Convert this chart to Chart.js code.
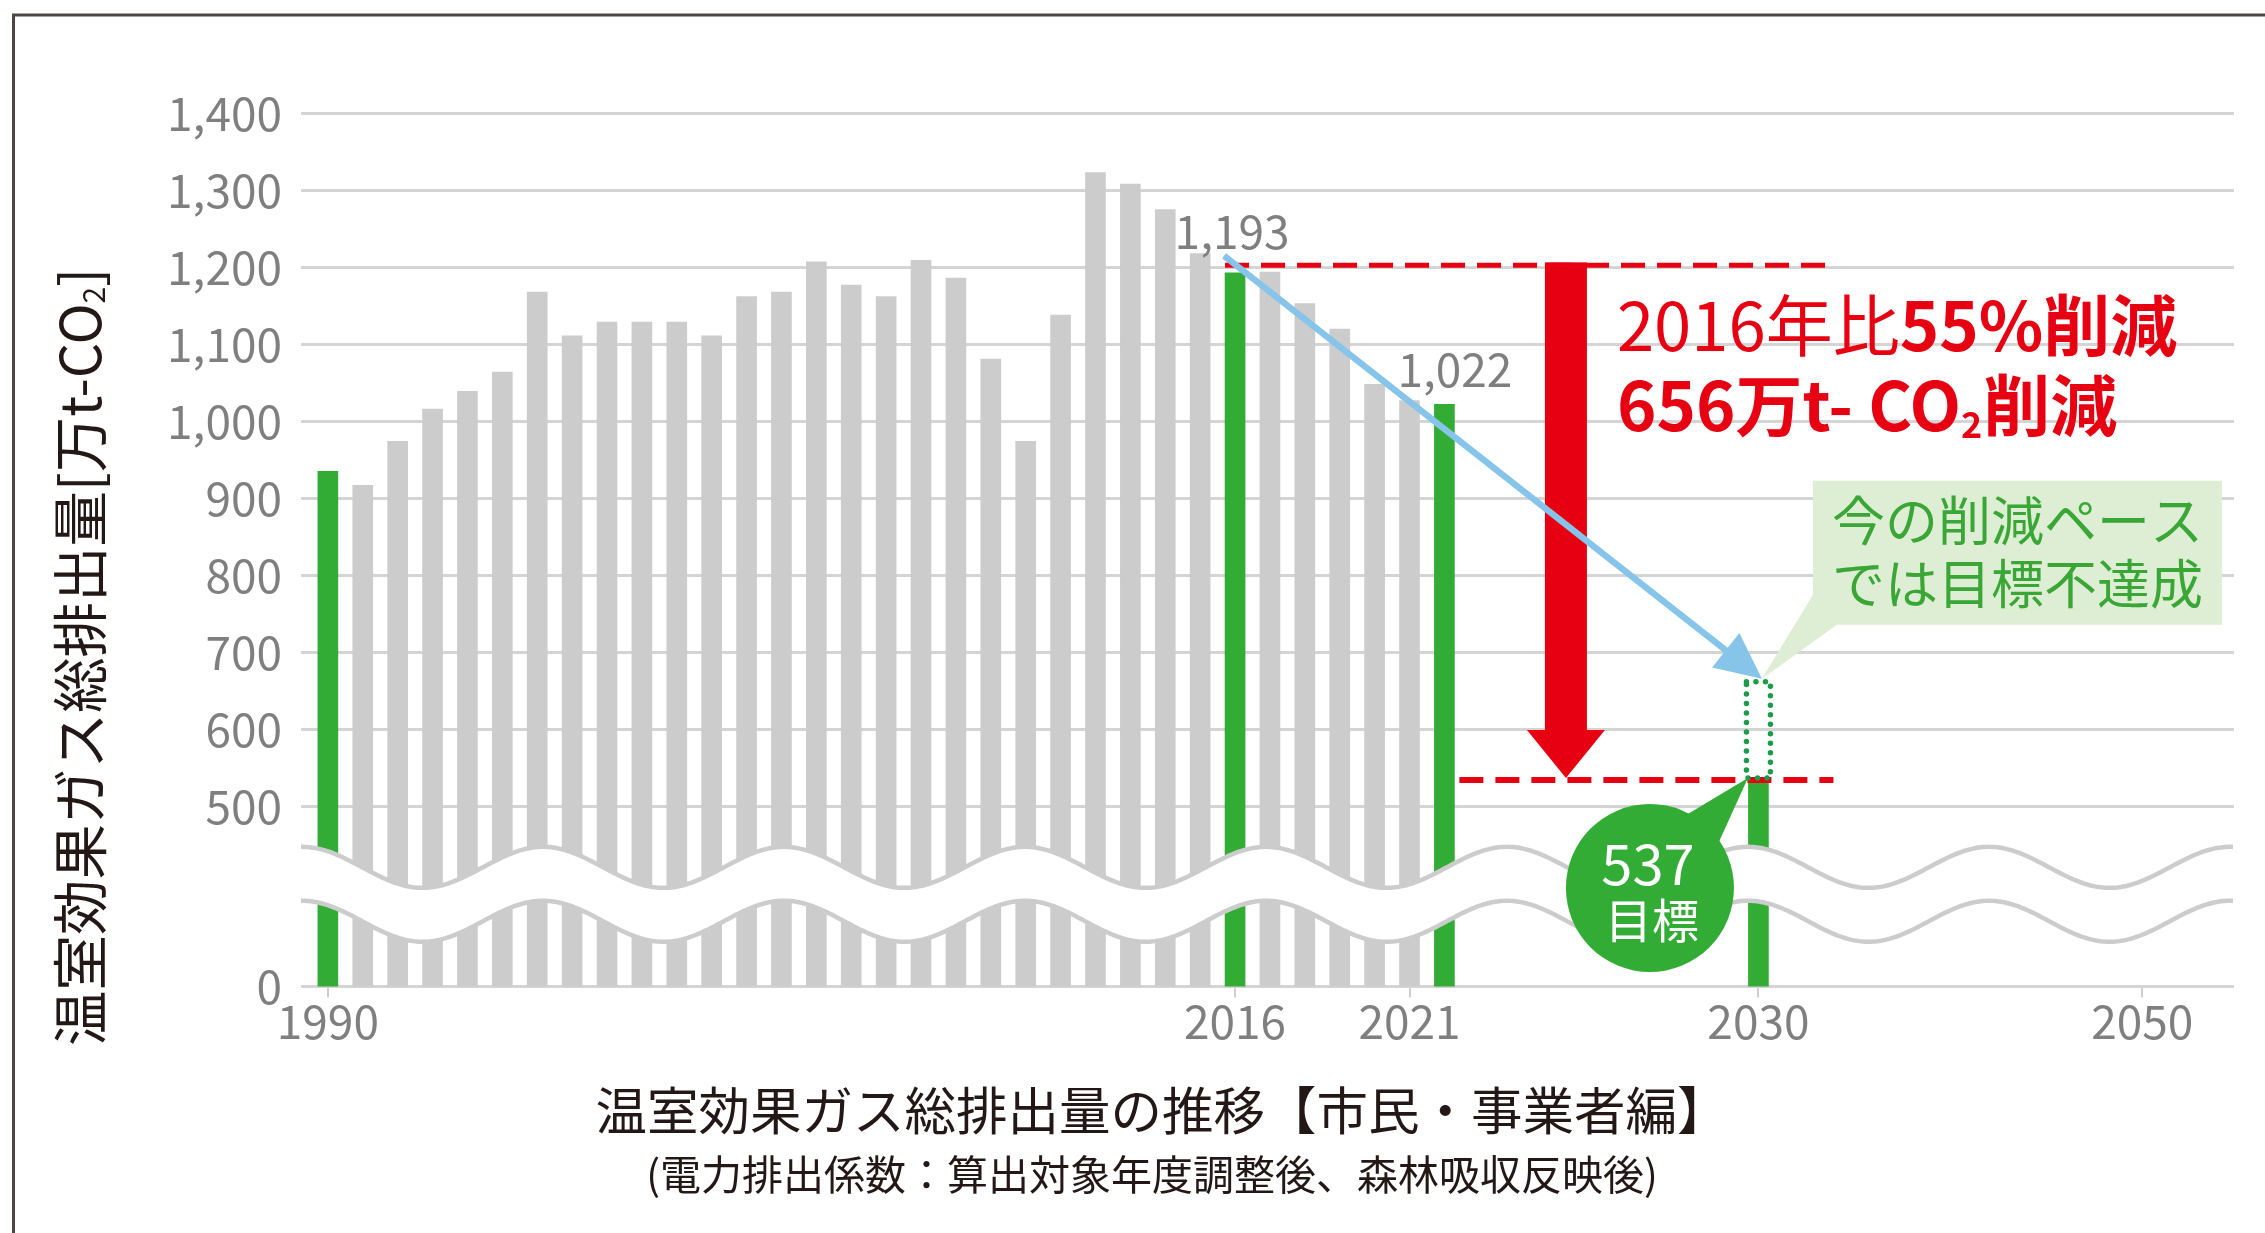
<!DOCTYPE html>
<html><head><meta charset="utf-8">
<script src="https://cdn.jsdelivr.net/npm/chart.js@4.4.1/dist/chart.umd.min.js"></script>
<style>html,body{margin:0;padding:0;background:#fff;}canvas{display:block;}</style>
</head><body>
<canvas id="c" width="2265" height="1233" style="width:2265px;height:1233px"></canvas>
<script>
// ---------- data ----------
const categories = [
 '1990','1991','1992','1993','1994','1995','1996','1997','1998','1999',
 '2000','2001','2002','2003','2004','2005','2006','2007','2008','2009',
 '2010','2011','2012','2013','2014','2015','2016','2017','2018','2019',
 '2020','2021','2021 (highlight)','2022','2023','2024','2025','2026','2027','2028',
 '2029','2030','','','','','','','','',
 '','','2050','',''
];
const grayYears = [
 '1990','1991','1992','1993','1994','1995','1996','1997','1998','1999',
 '2000','2001','2002','2003','2004','2005','2006','2007','2008','2009',
 '2010','2011','2012','2013','2014','2015','2016','2017','2018','2019',
 '2020','2021'
];
const grayValues = [
 null, 917, 974, 1016, 1039, 1064, 1168, 1111, 1129, 1129,
 1129, 1111, 1162, 1168, 1207, 1177, 1162, 1209, 1186, 1081,
 974, 1138, 1323, 1308, 1275, 1218, null, 1194, 1153, 1120,
 1048, 1027
];
const highlightCats = ['1990','2016','2021 (highlight)','2030'];
const highlightValues = [935, 1193, 1022, 537];
const labelledCats = ['2016','2021 (highlight)'];
const labelledValues = [1193, 1022];
const paceCat = '2030';
const paceValue = 662;          // 2030 value at the current pace (dotted box top)
const baseYearValue = 1193;     // 2016
const targetValue = 537;        // 2030 target
const xTickLabels = ['1990','2016','2021','2030','2050'];
const yTicks = [0, 500, 600, 700, 800, 900, 1000, 1100, 1200, 1300, 1400];
const yTickLabels = ['0','500','600','700','800','900','1,000','1,100','1,200','1,300','1,400'];

const titleText = '温室効果ガス総排出量の推移【市民・事業者編】';
const subtitleText = '(電力排出係数：算出対象年度調整後、森林吸収反映後)';
const yTitleMain = '温室効果ガス総排出量[万t-CO';
const redLine1a = '2016年比', redLine1b = '55%削減';
const redLine2a = '656万t- CO', redLine2b = '削減';
const calloutLines = ['今の削減ペース', 'では目標不達成'];
const bubbleLines = ['537', '目標'];

// ---------- axis settings (broken axis: "0" drawn at the floor) ----------
const AXIS_FLOOR = 266.3;
const F = '"Noto Sans CJK JP", "Noto Sans", sans-serif';
const GRAY_TXT = '#7f7f7f';
const GREEN = '#33ac36', BARGRAY = '#cccccc', RED = '#e60012', BLUE = '#86c4ea';

const idx = c => categories.indexOf(c);

const decor = {
  id: 'decor',
  beforeDraw(chart) {
    const ctx = chart.ctx;
    ctx.save();
    ctx.fillStyle = '#fff';
    ctx.fillRect(0, 0, chart.width, chart.height);
    ctx.strokeStyle = '#4d4744'; ctx.lineWidth = 3;
    ctx.beginPath(); ctx.moveTo(13.5, chart.height); ctx.lineTo(13.5, 15); ctx.lineTo(chart.width, 15); ctx.stroke();
    ctx.restore();
  },
  afterDatasetsDraw(chart) {
    const ctx = chart.ctx, xs = chart.scales.x, ys = chart.scales.y, a = chart.chartArea;
    const X = c => xs.getPixelForValue(idx(c));
    const Y = v => ys.getPixelForValue(v);
    ctx.save();

    // ---- wavy break band ----
    const period = 241, amp = 20.5;
    const upC = Y(421), loC = Y(351);
    const wy = (x, c) => c - amp * Math.cos(2 * Math.PI * (x - a.left - 1) / period);
    ctx.beginPath();
    for (let x = a.left; x <= a.right; x += 2) ctx.lineTo(x, wy(x, upC));
    for (let x = a.right; x >= a.left; x -= 2) ctx.lineTo(x, wy(x, loC));
    ctx.closePath(); ctx.fillStyle = '#fff'; ctx.fill();
    ctx.strokeStyle = BARGRAY; ctx.lineWidth = 4.5;
    [upC, loC].forEach(c => {
      ctx.beginPath();
      for (let x = a.left; x <= a.right; x += 2) ctx.lineTo(x, wy(x, c));
      ctx.stroke();
    });

    const x16 = X('2016'), x21 = X('2021 (highlight)'), x30 = X(paceCat);
    const yBase = Y(1200), yTarget = Y(targetValue), yPace = Y(paceValue);

    // ---- red dashed lines ----
    ctx.strokeStyle = RED; ctx.lineWidth = 5; ctx.setLineDash([24, 12]);
    ctx.beginPath(); ctx.moveTo(x16 - 10, yBase - 2); ctx.lineTo(x30 + 75, yBase - 2); ctx.stroke();
    ctx.lineWidth = 6;
    ctx.beginPath(); ctx.moveTo(x21 + 15, yTarget + 2); ctx.lineTo(x30 + 75, yTarget + 2); ctx.stroke();
    ctx.setLineDash([]);

    // ---- red down arrow ----
    const rx = x30 - 192.5;
    ctx.fillStyle = RED;
    ctx.fillRect(rx - 21, yBase - 5, 42, (yTarget - 48) - (yBase - 5));
    ctx.beginPath();
    ctx.moveTo(rx - 39, yTarget - 48); ctx.lineTo(rx + 39, yTarget - 48); ctx.lineTo(rx, yTarget);
    ctx.closePath(); ctx.fill();

    // ---- dotted projection box at 2030 ----
    ctx.strokeStyle = '#1a9c48'; ctx.lineWidth = 5.5; ctx.lineCap = 'round';
    ctx.setLineDash([0.01, 9.5]);
    ctx.strokeRect(x30 - 12, yPace, 24, yTarget - yPace);
    ctx.setLineDash([]); ctx.lineCap = 'butt';

    // ---- green callout box ----
    const tip = { x: x30 + 3.5, y: yPace - 3 };
    const bx = tip.x + 51, by = tip.y - 198, bw = 409, bh = 144;
    ctx.fillStyle = '#ddeed5';
    ctx.fillRect(bx, by, bw, bh);
    ctx.beginPath(); ctx.moveTo(bx, by + bh - 30); ctx.lineTo(tip.x, tip.y); ctx.lineTo(bx + 24, by + bh); ctx.closePath(); ctx.fill();
    ctx.fillStyle = '#3aa636';
    ctx.font = '400 53px ' + F; ctx.textAlign = 'center'; ctx.textBaseline = 'middle';
    ctx.fillText(calloutLines[0], bx + bw / 2, by + 40);
    ctx.fillText(calloutLines[1], bx + bw / 2, by + 103);

    // ---- blue arrow ----
    const s = { x: x16 - 11, y: Y(baseYearValue) - 17 };
    const ang = Math.atan2(tip.y - s.y, tip.x - s.x);
    const hl = 46, hw = 22;
    const bxp = tip.x - hl * Math.cos(ang), byp = tip.y - hl * Math.sin(ang);
    ctx.strokeStyle = BLUE; ctx.lineWidth = 6.5;
    ctx.beginPath(); ctx.moveTo(s.x, s.y); ctx.lineTo(bxp + 4 * Math.cos(ang), byp + 4 * Math.sin(ang)); ctx.stroke();
    ctx.fillStyle = BLUE;
    ctx.beginPath();
    ctx.moveTo(tip.x, tip.y);
    ctx.lineTo(bxp - hw * Math.sin(ang), byp + hw * Math.cos(ang));
    ctx.lineTo(bxp + hw * Math.sin(ang), byp - hw * Math.cos(ang));
    ctx.closePath(); ctx.fill();

    // ---- green bubble "537 目標" ----
    const btip = { x: x30 - 10.5, y: yTarget };
    const cx = x30 - 108.5, cy = yTarget + 110, r = 84;
    const d = Math.atan2(btip.y - cy, btip.x - cx);
    ctx.fillStyle = GREEN;
    ctx.beginPath(); ctx.arc(cx, cy, r, 0, Math.PI * 2); ctx.fill();
    ctx.beginPath();
    ctx.moveTo(cx + (r - 3) * Math.cos(d - 0.27), cy + (r - 3) * Math.sin(d - 0.27));
    ctx.lineTo(btip.x, btip.y);
    ctx.lineTo(cx + (r - 3) * Math.cos(d + 0.27), cy + (r - 3) * Math.sin(d + 0.27));
    ctx.closePath(); ctx.fill();
    ctx.fillStyle = '#fff'; ctx.textAlign = 'center'; ctx.textBaseline = 'middle';
    ctx.font = '400 56px ' + F; ctx.fillText(bubbleLines[0], cx - 2, cy - 24);
    ctx.font = '400 47px ' + F; ctx.fillText(bubbleLines[1], cx + 2, cy + 32);

    // ---- value labels ----
    ctx.fillStyle = GRAY_TXT; ctx.font = '400 46px ' + F;
    ctx.fillText(labelledValues[0].toLocaleString('en-US'), X(labelledCats[0]) - 3, Y(labelledValues[0]) - 41);
    ctx.fillText(labelledValues[1].toLocaleString('en-US'), X(labelledCats[1]) + 10.5, Y(labelledValues[1]) - 35);

    // ---- red texts ----
    const tx = rx + 51;
    ctx.fillStyle = RED; ctx.textAlign = 'left'; ctx.textBaseline = 'alphabetic';
    let x = tx, y1 = yBase + 84, y2 = yBase + 164;
    ctx.font = '400 67px ' + F; ctx.fillText(redLine1a, x, y1); x += ctx.measureText(redLine1a).width;
    ctx.font = '700 67px ' + F; ctx.fillText(redLine1b, x, y1);
    x = tx;
    ctx.font = '700 67px ' + F; ctx.fillText(redLine2a, x, y2); x += ctx.measureText(redLine2a).width;
    ctx.font = '700 36px ' + F; ctx.fillText('2', x, y2 + 7); x += ctx.measureText('2').width + 1;
    ctx.font = '700 67px ' + F; ctx.fillText(redLine2b, x, y2);

    ctx.restore();
  },
  afterDraw(chart) {
    const ctx = chart.ctx;
    ctx.save();
    ctx.fillStyle = '#231815'; ctx.textAlign = 'center'; ctx.textBaseline = 'middle';
    ctx.font = '400 51.5px ' + F; ctx.fillText(titleText, 1162, 1110);
    ctx.font = '400 41px ' + F; ctx.fillText(subtitleText, 1152, 1174);
    // rotated y title
    ctx.translate(80, 657); ctx.rotate(-Math.PI / 2);
    ctx.font = '400 55.5px ' + F;
    const w1 = ctx.measureText(yTitleMain).width;
    ctx.font = '400 30px ' + F; const w2 = ctx.measureText('2').width;
    ctx.font = '400 55.5px ' + F; const w3 = ctx.measureText(']').width;
    let x = -(w1 + w2 + w3) / 2;
    ctx.textAlign = 'left'; ctx.textBaseline = 'middle';
    ctx.fillText(yTitleMain, x, 0); x += w1;
    ctx.font = '400 30px ' + F; ctx.fillText('2', x, 14); x += w2;
    ctx.font = '400 55.5px ' + F; ctx.fillText(']', x, 0);
    ctx.restore();
  }
};

Chart.defaults.font.family = F;

new Chart(document.getElementById('c'), {
  type: 'bar',
  data: {
    datasets: [
      {
        label: 'highlight',
        data: highlightCats.map((c, i) => ({ x: idx(c), y: highlightValues[i] })),
        backgroundColor: GREEN, barThickness: 20, grouped: false, borderWidth: 0
      },
      {
        label: 'emissions',
        data: grayYears.map((c, i) => ({ x: idx(c), y: grayValues[i] })).filter(p => p.y !== null),
        backgroundColor: BARGRAY, barThickness: 20, grouped: false, borderWidth: 0
      }
    ]
  },
  options: {
    responsive: false, devicePixelRatio: 1, animation: false,
    layout: { padding: { top: 113.3, right: 31, bottom: 0, left: 0 } },
    plugins: { legend: { display: false }, tooltip: { enabled: false } },
    scales: {
      x: {
        type: 'linear', min: -0.77, max: 54.63, offset: false,
        afterBuildTicks: s => { s.ticks = xTickLabels.map(l => ({ value: idx(l) })); },
        afterFit: s => { s.height = 246.5; },
        ticks: { callback: (v, i) => xTickLabels[i], color: GRAY_TXT, font: { size: 46 }, padding: -4, maxRotation: 0, autoSkip: false },
        grid: { offset: false, drawOnChartArea: false, drawTicks: true, tickLength: 11, color: '#cfcfcf', lineWidth: 2 },
        border: { display: false }
      },
      y: {
        type: 'linear', min: AXIS_FLOOR, max: 1400,
        afterBuildTicks: s => { s.ticks = yTicks.map(v => ({ value: v === 0 ? AXIS_FLOOR : v })); },
        afterFit: s => { s.width = 301; },
        ticks: { callback: (v, i) => yTickLabels[i], color: GRAY_TXT, font: { size: 46 }, padding: 19 },
        grid: { color: '#d4d4d4', lineWidth: 3, drawTicks: false },
        border: { display: false }
      }
    }
  },
  plugins: [decor]
});
</script>
</body></html>
